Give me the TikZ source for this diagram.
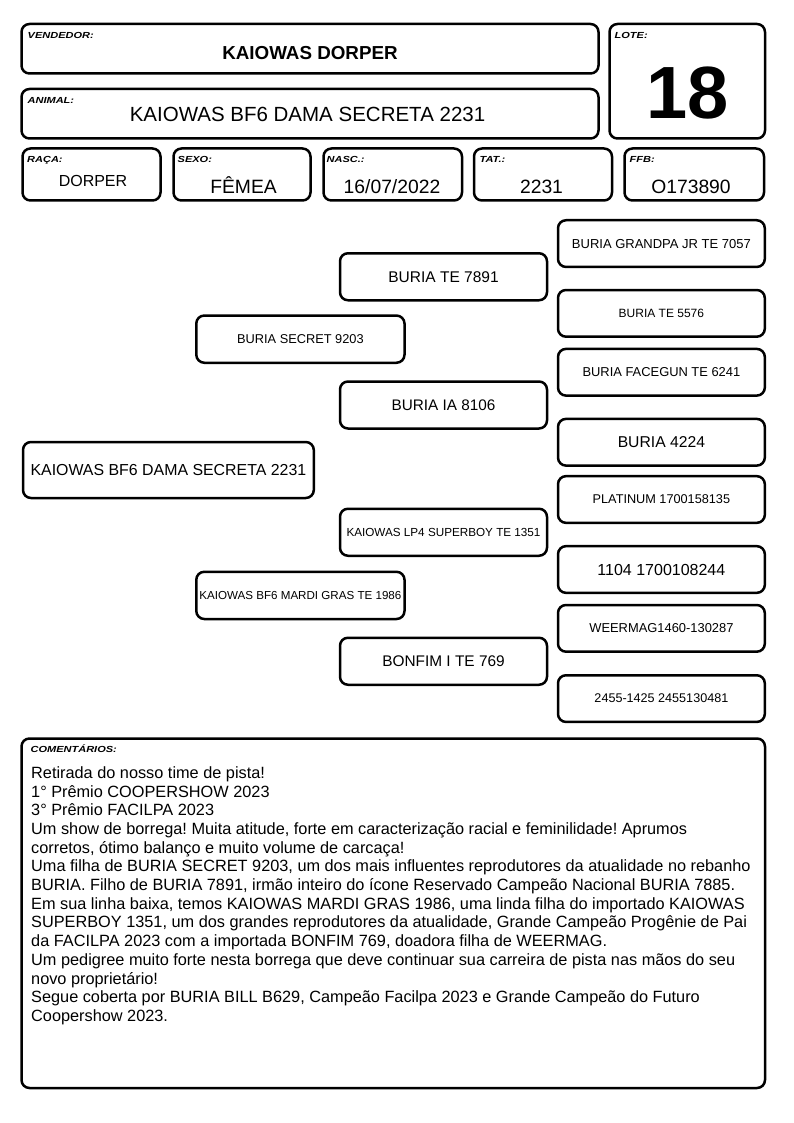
\documentclass[tikz,border=0pt]{standalone}
\usepackage{fontspec}
\setmainfont{Liberation Sans}
\newfontfamily\lblfont{Liberation Sans}[FakeStretch=1.25]
\frenchspacing
\begin{document}
\begin{tikzpicture}[x=1pt,y=-1pt,
  box/.style={draw, line width=2.5pt, rounded corners=8pt, inner sep=0pt},
  lbl/.style={anchor=base west, inner sep=0pt, font=\lblfont\bfseries\itshape\fontsize{8.8}{10}\selectfont},
  val/.style={anchor=base, inner sep=0pt},
  gg/.style={box, minimum width=206.8pt, minimum height=46.7pt},
  gp/.style={box, minimum width=207pt, minimum height=47pt},
  pa/.style={box, minimum width=208.2pt, minimum height=47.2pt}]
\useasboundingbox (0,0) rectangle (794,1123);
% header boxes
\node[box, minimum width=577pt, minimum height=49.5pt] (vend) at (310,48.75) {};
\node[box, minimum width=155.5pt, minimum height=114.5pt] (lote) at (687.25,81.25) {};
\node[box, minimum width=577pt, minimum height=49.5pt] (animal) at (310,113.75) {};
\node[box, minimum width=138pt, minimum height=52pt] (raca) at (91.5,174.5) {};
\node[box, minimum width=137pt, minimum height=52pt] (sexo) at (242,174.5) {};
\node[box, minimum width=138.5pt, minimum height=52pt] (nasc) at (392.75,174.5) {};
\node[box, minimum width=138pt, minimum height=52pt] (tat) at (543,174.5) {};
\node[box, minimum width=139.5pt, minimum height=52pt] (ffb) at (694.25,174.5) {};
% labels
\node[lbl] (lvend) at (27.5,38.3) {VENDEDOR:};
\node[lbl] (llote) at (614.5,38.5) {LOTE:};
\node[lbl] (lanimal) at (27.5,103.5) {ANIMAL:};
\node[lbl] (lraca) at (27,162.5) {RAÇA:};
\node[lbl] (lsexo) at (177.5,162.8) {SEXO:};
\node[lbl] (lnasc) at (326.5,162.8) {NASC.:};
\node[lbl] (ltat) at (479.5,162.8) {TAT.:};
\node[lbl] (lffb) at (629.5,162.8) {FFB:};
% values
\node[val, font=\bfseries\fontsize{18.8}{20}\selectfont] (tvend) at (310,59.3) {KAIOWAS DORPER};
\node[val, font=\fontsize{20.5}{22}\selectfont] (tanimal) at (307.5,121.7) {KAIOWAS BF6 DAMA SECRETA 2231};
\node[val, font=\bfseries\fontsize{74}{80}\selectfont] (tlote) at (688,118.3) {18};
\node[val, font=\fontsize{16}{18}\selectfont] (traca) at (93,186.7) {DORPER};
\node[val, font=\fontsize{19.3}{21}\selectfont] (tsexo) at (243.5,193.3) {FÊMEA};
\node[val, font=\fontsize{19.3}{21}\selectfont] (tnasc) at (392,193.3) {16/07/2022};
\node[val, font=\fontsize{19.3}{21}\selectfont] (ttat) at (541.5,193.3) {2231};
\node[val, font=\fontsize{19.3}{21}\selectfont] (tffb) at (691,193.3) {O173890};
% pedigree: great-grandparents
\node[gg, font=\fontsize{13}{15}\selectfont] (g1) at (661.4,243.6) {BURIA GRANDPA JR TE 7057};
\node[gg, font=\fontsize{12}{14}\selectfont] (g2) at (661.4,313.35) {BURIA TE 5576};
\node[gg, font=\fontsize{12.9}{15}\selectfont] (g3) at (661.4,372.25) {BURIA FACEGUN TE 6241};
\node[gg, font=\fontsize{15.7}{18}\selectfont] (g4) at (661.4,442.25) {BURIA 4224};
\node[gg, font=\fontsize{12.7}{15}\selectfont] (g5) at (661.4,499.5) {PLATINUM 1700158135};
\node[gg, font=\fontsize{16}{18}\selectfont] (g6) at (661.4,569.5) {1104 1700108244};
\node[gg, font=\fontsize{12.9}{15}\selectfont] (g7) at (661.4,628.35) {WEERMAG1460-130287};
\node[gg, font=\fontsize{12.6}{15}\selectfont] (g8) at (661.4,698.6) {2455-1425 2455130481};
% grandparents
\node[gp, font=\fontsize{15.5}{18}\selectfont] (p1) at (443.5,276.75) {BURIA TE 7891};
\node[gp, font=\fontsize{15.3}{18}\selectfont] (p2) at (443.5,405) {BURIA IA 8106};
\node[gp, font=\fontsize{11.7}{14}\selectfont] (p3) at (443.5,532.25) {KAIOWAS LP4 SUPERBOY TE 1351};
\node[gp, font=\fontsize{15.4}{18}\selectfont] (p4) at (443.5,661.25) {BONFIM I TE 769};
% parents
\node[pa, font=\fontsize{12.8}{15}\selectfont] (sire) at (300.4,339.15) {BURIA SECRET 9203};
\node[pa, font=\fontsize{11.6}{14}\selectfont] (dam) at (300.4,595.4) {KAIOWAS BF6 MARDI GRAS TE 1986};
% subject
\node[box, minimum width=290.8pt, minimum height=56pt, font=\fontsize{15.9}{18}\selectfont] (subj) at (168.4,470) {KAIOWAS BF6 DAMA SECRETA 2231};
% comments
\node[box, minimum width=743.5pt, minimum height=349.5pt] (com) at (393.25,913.25) {};
\node[lbl] (lcom) at (30.5,752.3) {COMENTÁRIOS:};
\node[anchor=base west, inner sep=0pt, font=\fontsize{16.3}{18.7}\selectfont] (tcom) at (31,778.3) {\vtop{\baselineskip=18.7pt
\hbox{Retirada do nosso time de pista!}
\hbox{1° Prêmio COOPERSHOW 2023}
\hbox{3° Prêmio FACILPA 2023}
\hbox{Um show de borrega! Muita atitude, forte em caracterização racial e feminilidade! Aprumos}
\hbox{corretos, ótimo balanço e muito volume de carcaça!}
\hbox{Uma filha de BURIA SECRET 9203, um dos mais influentes reprodutores da atualidade no rebanho}
\hbox{BURIA. Filho de BURIA 7891, irmão inteiro do ícone Reservado Campeão Nacional BURIA 7885.}
\hbox{Em sua linha baixa, temos KAIOWAS MARDI GRAS 1986, uma linda filha do importado KAIOWAS}
\hbox{SUPERBOY 1351, um dos grandes reprodutores da atualidade, Grande Campeão Progênie de Pai}
\hbox{da FACILPA 2023 com a importada BONFIM 769, doadora filha de WEERMAG.}
\hbox{Um pedigree muito forte nesta borrega que deve continuar sua carreira de pista nas mãos do seu}
\hbox{novo proprietário!}
\hbox{Segue coberta por BURIA BILL B629, Campeão Facilpa 2023 e Grande Campeão do Futuro}
\hbox{Coopershow 2023.}}};
\end{tikzpicture}
\end{document}
